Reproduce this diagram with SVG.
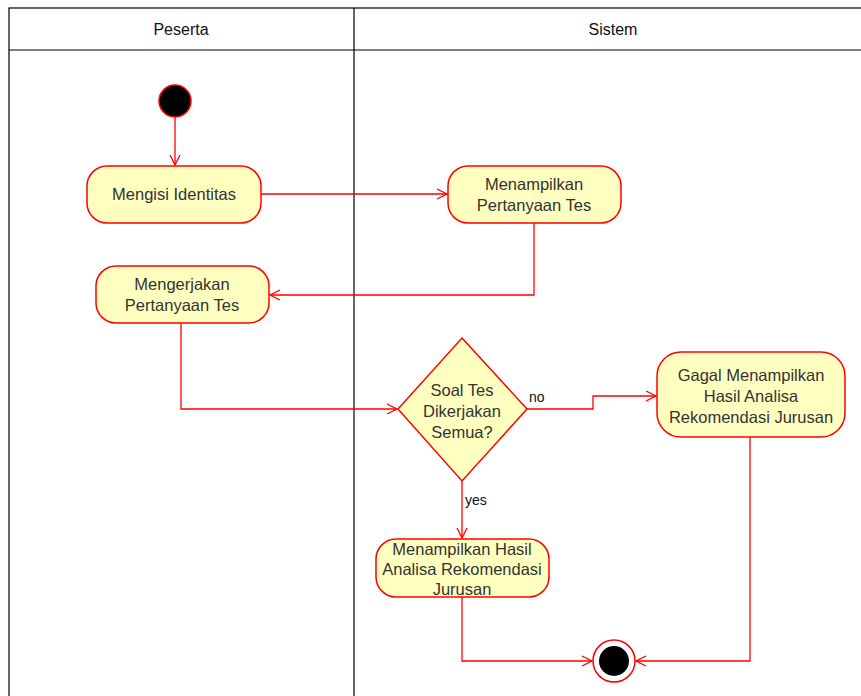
<svg xmlns="http://www.w3.org/2000/svg" width="861" height="696" viewBox="0 0 861 696">
<defs>
<marker id="arr" viewBox="0 0 12 12" refX="11" refY="6" markerWidth="12" markerHeight="12" markerUnits="userSpaceOnUse" orient="auto">
<path d="M1,1 L11,6 L1,11" fill="none" stroke="#ff0000" stroke-width="1.3"/>
</marker>
<style>
.lane{fill:none;stroke:#000;stroke-width:1.2}
.act{fill:#ffffc0;stroke:#ff0000;stroke-width:1.5}
.t{font-family:"Liberation Sans",Arial,sans-serif;font-size:16.5px;fill:#333;text-anchor:middle}
.h{font-family:"Liberation Sans",Arial,sans-serif;font-size:16px;fill:#111;text-anchor:middle}
.lbl{font-family:"Liberation Sans",Arial,sans-serif;font-size:14px;fill:#111}
.c{fill:none;stroke:#ff0000;stroke-width:1.3;marker-end:url(#arr)}
</style>
</defs>
<rect width="861" height="696" fill="#fff"/>
<g id="lanes">
<rect class="lane" x="9" y="8" width="860" height="700"/>
<line class="lane" x1="9" y1="50" x2="861" y2="50"/>
<line class="lane" x1="354" y1="8" x2="354" y2="696"/>
<text class="h" x="181" y="35">Peserta</text>
<text class="h" x="613" y="35">Sistem</text>
</g>
<g id="connectors">
<path class="c" d="M175,117 L175,165"/>
<path class="c" d="M261,194 L447,194"/>
<path class="c" d="M534,223 L534,295 L270,295"/>
<path class="c" d="M181,323 L181,409 L397,409"/>
<path class="c" d="M527,409 L593,409 L593,396 L656,396"/>
<path class="c" d="M462,481 L462,538"/>
<path class="c" d="M462,597 L462,661 L592,661"/>
<path class="c" d="M750,437 L750,661 L636,661"/>
<text class="lbl" x="529" y="402">no</text>
<text class="lbl" x="465" y="505">yes</text>
</g>
<g id="start"><circle cx="175" cy="101" r="16" fill="#000" stroke="#ff0000" stroke-width="1.5"/></g>
<g id="mengisi">
<rect class="act" x="87" y="166" width="174" height="57" rx="20"/>
<text class="t" x="174" y="200">Mengisi Identitas</text>
</g>
<g id="menampilkan-pertanyaan">
<rect class="act" x="448" y="166" width="173" height="57" rx="20"/>
<text class="t" x="534" y="190">Menampilkan</text>
<text class="t" x="534" y="211">Pertanyaan Tes</text>
</g>
<g id="mengerjakan">
<rect class="act" x="96" y="266" width="173" height="57" rx="20"/>
<text class="t" x="182" y="290">Mengerjakan</text>
<text class="t" x="182" y="311">Pertanyaan Tes</text>
</g>
<g id="decision">
<polygon class="act" points="462,338 527,409 462,481 398,409"/>
<text class="t" x="462" y="396">Soal Tes</text>
<text class="t" x="462" y="417">Dikerjakan</text>
<text class="t" x="462" y="438">Semua?</text>
</g>
<g id="gagal">
<rect class="act" x="657" y="352" width="188" height="85" rx="24"/>
<text class="t" x="751" y="381">Gagal Menampilkan</text>
<text class="t" x="751" y="402">Hasil Analisa</text>
<text class="t" x="751" y="423">Rekomendasi Jurusan</text>
</g>
<g id="hasil">
<rect class="act" x="376" y="539" width="173" height="58" rx="20"/>
<text class="t" x="462" y="555">Menampilkan Hasil</text>
<text class="t" x="462" y="575">Analisa Rekomendasi</text>
<text class="t" x="462" y="595">Jurusan</text>
</g>
<g id="end">
<circle cx="614" cy="661" r="21" fill="#fff" stroke="#ff0000" stroke-width="1.5"/>
<circle cx="614" cy="661" r="15" fill="#000"/>
</g>
</svg>
